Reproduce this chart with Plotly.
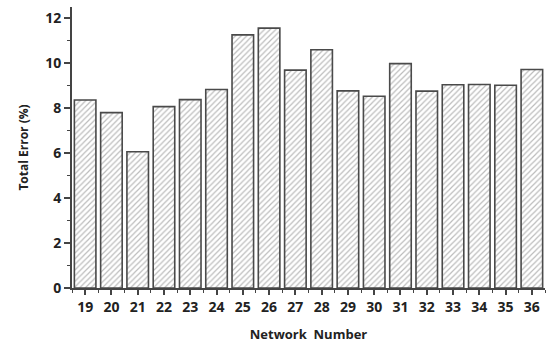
import plotly.graph_objects as go

networks = list(range(19, 37))
total_error = [8.36, 7.8, 6.06, 8.07, 8.38, 8.83, 11.26, 11.56, 9.69, 10.6,
               8.77, 8.53, 9.98, 8.76, 9.04, 9.05, 9.02, 9.72]
y_ticks = [0, 2, 4, 6, 8, 10, 12]

font_family = "Open Sans, DejaVu Sans, sans-serif"

fig = go.Figure(
    go.Bar(
        x=networks,
        y=total_error,
        width=0.82,
        marker=dict(
            color="white",
            line=dict(color="#4a4a4a", width=1.6),
            pattern=dict(shape="/", fgcolor="#7a7a7a", bgcolor="white",
                         size=4, solidity=0.3),
        ),
    )
)

fig.update_layout(
    width=550,
    height=347,
    margin=dict(l=72, r=5, t=7, b=59),
    paper_bgcolor="white",
    plot_bgcolor="white",
    showlegend=False,
    font=dict(family=font_family, color="#222222"),
)

fig.update_xaxes(
    range=[18.5, 36.5],
    tickvals=networks,
    ticktext=[str(n) for n in networks],
    ticks="outside",
    ticklen=5,
    tickwidth=1.5,
    tickcolor="#444444",
    minor=dict(ticks="outside", ticklen=3, tick0=0.5, dtick=1,
               tickcolor="#444444", tickwidth=1.2),
    showline=True,
    linecolor="#444444",
    linewidth=2,
    showgrid=False,
    zeroline=False,
    tickfont=dict(size=14, family=font_family, weight="bold"),
    title=dict(text="Network  Number", standoff=15,
               font=dict(size=13, family=font_family, weight="bold")),
)

fig.update_yaxes(
    range=[0, 12.5],
    tickvals=y_ticks,
    ticks="outside",
    ticklen=6,
    tickwidth=1.5,
    tickcolor="#444444",
    minor=dict(ticks="outside", ticklen=3, tick0=1, dtick=2,
               tickcolor="#444444", tickwidth=1.2),
    showline=True,
    linecolor="#444444",
    linewidth=2,
    showgrid=False,
    zeroline=False,
    tickfont=dict(size=14, family=font_family, weight="bold"),
    title=dict(text="Total Error (%)", standoff=14,
               font=dict(size=12, family=font_family, weight="bold")),
)

fig.write_html("out.html")
